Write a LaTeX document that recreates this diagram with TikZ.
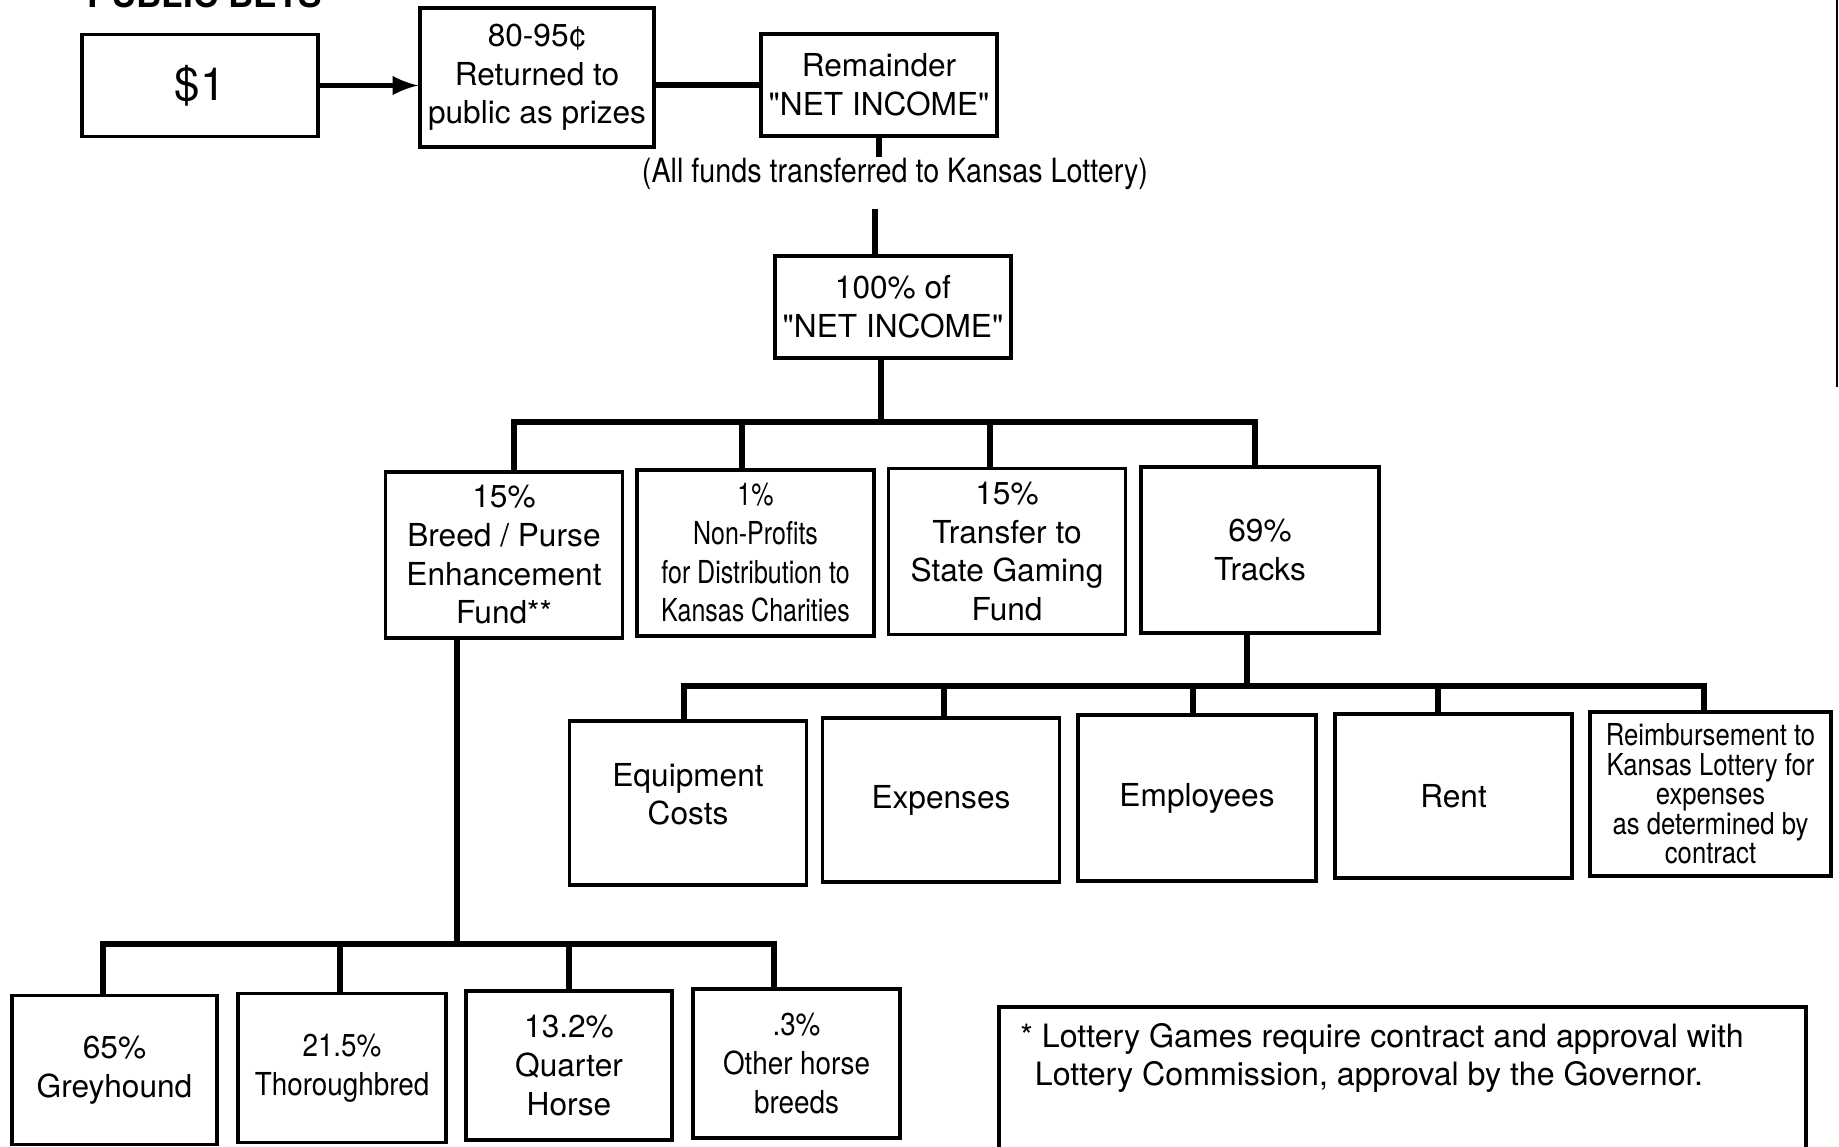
\documentclass[tikz,border=0pt]{standalone}
\usepackage{fontspec}
\setmainfont{TeX Gyre Heros}[Ligatures=TeXOff]
\newfontfamily\narrowfont[FakeStretch=0.79,Ligatures=TeXOff]{TeX Gyre Heros}
\newfontfamily\semifont[FakeStretch=0.88,Ligatures=TeXOff]{TeX Gyre Heros}
\newfontfamily\reimbfont[FakeStretch=0.85,Ligatures=TeXOff]{TeX Gyre Heros}
\newfontfamily\fundsfont[FakeStretch=0.86,Ligatures=TeXOff]{TeX Gyre Heros}
\usetikzlibrary{arrows,calc}
\tikzset{
	every node/.style={
		font=\fontsize{9}{11}\selectfont
	},
	box/.style={
		shape=rectangle,
		draw,
		line width=1pt,
		align=center,
		inner sep=0pt,
	},
	link/.style={
		line width=1.5pt,
	},
}

\begin{document}
\begin{tikzpicture}
	\tikzstyle{topbox}=[box, minimum width=2.36cm, minimum height=1.02cm]
	\tikzstyle{midbox}=[box, minimum width=2.37cm, minimum height=1.66cm]
	\tikzstyle{lowbox}=[box, minimum width=2.07cm, minimum height=1.49cm]
	\tikzstyle{narrow}=[font=\narrowfont\fontsize{9}{11}\selectfont]
	\tikzstyle{semi}=[font=\semifont\fontsize{9}{11}\selectfont]
	\useasboundingbox (0,0) rectangle (18.39,-11.47);
	
	\node[font=\bfseries\fontsize{10}{12}\selectfont, anchor=base] (title) at (2.05,-0.08) {PUBLIC BETS};
	\node[topbox, font=\fontsize{13}{15}\selectfont] (bet) at (2.00,-0.855) {\$1};
	\node[topbox, minimum width=2.34cm, minimum height=1.39cm] (prize) at (5.37,-0.775) {80-95¢\\Returned to\\public as prizes};
	\node[topbox] (remain) at (8.79,-0.85) {Remainder\\"NET INCOME"};
	\node[font=\fundsfont\fontsize{9.5}{11}\selectfont, inner sep=0pt] (funds) at (8.95,-1.74) {(All funds transferred to Kansas Lottery)};
	\coordinate (gap) at (8.75,-2.09);
	\node[topbox] (net) at (8.93,-3.07) {100\% of\\"NET INCOME"};
	
	\node[midbox] (breed) at (5.04,-5.55) {15\%\\Breed / Purse\\Enhancement\\Fund**};
	\node[midbox, narrow] (charity) at (7.555,-5.53) {1\%\\Non-Profits\\for Distribution to\\Kansas Charities};
	\node[midbox] (gaming) at (10.07,-5.515) {15\%\\Transfer to\\State Gaming\\Fund};
	\node[midbox, minimum width=2.38cm] (tracks) at (12.60,-5.50) {69\%\\Tracks};
	
	\node[midbox, minimum height=1.64cm, text depth=0.18cm] (equip) at (6.88,-8.03) {Equipment\\Costs};
	\node[midbox, minimum height=1.64cm] (expense) at (9.41,-8.00) {Expenses};
	\node[midbox, minimum width=2.38cm] (employ) at (11.97,-7.98) {Employees};
	\node[midbox, minimum height=1.64cm] (rent) at (14.535,-7.96) {Rent};
	\node[midbox, minimum width=2.41cm, minimum height=1.64cm, font=\reimbfont\fontsize{8.6}{8.4}\selectfont] (reimb) at (17.105,-7.94) {Reimbursement to\\Kansas Lottery for\\expenses\\as determined by\\contract};
	
	\node[lowbox, minimum width=2.05cm] (grey) at (1.145,-10.70) {65\%\\Greyhound};
	\node[lowbox, minimum width=2.08cm, semi] (thorough) at (3.42,-10.68) {21.5\%\\Thoroughbred};
	\node[lowbox, minimum width=2.06cm] (quarter) at (5.69,-10.655) {13.2\%\\Quarter\\Horse};
	\node[lowbox, semi] (other) at (7.965,-10.635) {.3\%\\Other horse\\breeds};
	
	\node[box, anchor=north west, minimum width=8.07cm, minimum height=1.8cm] (note) at (9.97,-10.05) {};
	\node[anchor=west, align=left, font=\fontsize{9.15}{11}\selectfont] (notetext) at (10.08,-10.58) {* Lottery Games require contract and approval with\\\hspace*{0.45em}Lottery Commission, approval by the Governor.};
	
	\draw[link,-latex] (bet.east) -- (bet.east -| prize.west);
	\draw[link] (prize.east |- remain.west) -- (remain.west);
	\draw[link] (remain.south) -- (remain.south |- funds.north);
	\draw[link] (gap) -- (gap |- net.north);
	
	\coordinate (hub1) at (8.81,-4.22);
	\draw[link] (hub1 |- net.south) -- (hub1);
	\foreach \n/\dx in {breed/0.10, charity/-0.135, gaming/-0.17, tracks/-0.05}
	\draw[link] (hub1) -| ([xshift=\dx cm]\n.north);
	
	\coordinate (hub2) at (12.47,-6.86);
	\draw[link] (hub2 |- tracks.south) -- (hub2);
	\foreach \n/\dx in {equip/-0.04, expense/0.03, employ/-0.04, rent/-0.155, reimb/-0.065}
	\draw[link] (hub2) -| ([xshift=\dx cm]\n.north);
	
	\coordinate (hub3) at (4.57,-9.44);
	\draw[link] (hub3 |- breed.south) -- (hub3);
	\foreach \n/\dx in {grey/-0.115, thorough/-0.02, quarter/0, other/-0.225}
	\draw[link] (hub3) -| ([xshift=\dx cm]\n.north);
	
	\draw[line width=0.8pt] (18.37,0) -- (18.37,-3.87);
\end{tikzpicture}
\end{document}
